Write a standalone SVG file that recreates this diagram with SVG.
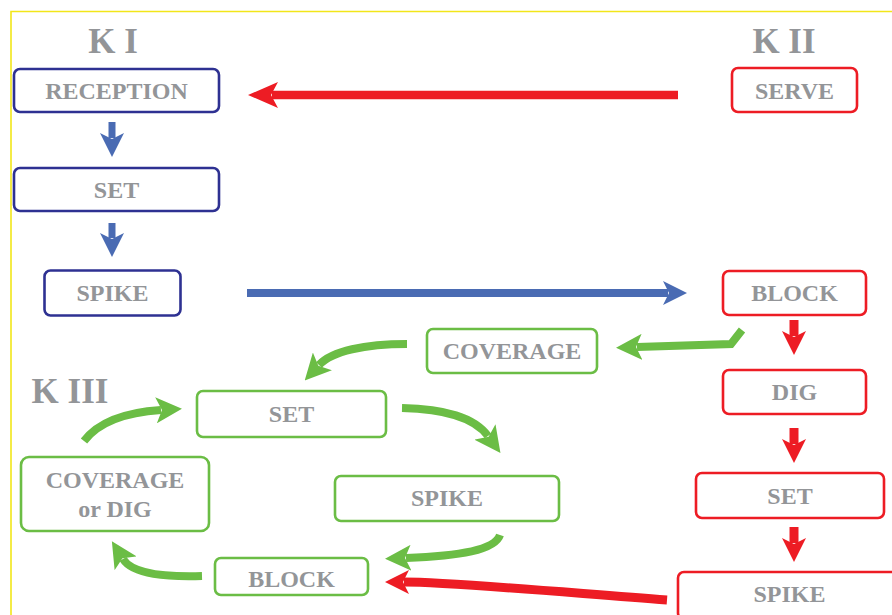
<svg xmlns="http://www.w3.org/2000/svg" width="892" height="615" viewBox="0 0 892 615">
<defs>
<style>
.t{font-family:"Liberation Serif","Times New Roman",serif;font-weight:bold;fill:#939598;text-anchor:middle}
.n{font-size:24px}
.k{font-size:35px}
.bx{fill:#fff;stroke-width:2.6}
.blue{stroke:#2e3192}
.red{stroke:#ed1c24}
.green{stroke:#6bbd45}
.a{fill:none}
.ab{stroke:#4a6bb3}
.ar{stroke:#ed1c24}
.ag{stroke:#6bbd45}
</style>
<marker id="hb" markerUnits="userSpaceOnUse" viewBox="0 -12 24 24" markerWidth="24" markerHeight="24" refX="5" refY="0" orient="auto"><path d="M0,-12 L24,0 L0,12 L6,0 Z" fill="#4a6bb3"/></marker>
<marker id="hr" markerUnits="userSpaceOnUse" viewBox="0 -12 24 24" markerWidth="24" markerHeight="24" refX="5" refY="0" orient="auto"><path d="M0,-12 L24,0 L0,12 L6,0 Z" fill="#ed1c24"/></marker>
<marker id="hrb" markerUnits="userSpaceOnUse" viewBox="0 -13 30 26" markerWidth="30" markerHeight="26" refX="6" refY="0" orient="auto"><path d="M0,-13 L30,0 L0,13 L7,0 Z" fill="#ed1c24"/></marker>
<marker id="hg" markerUnits="userSpaceOnUse" viewBox="0 -13 26 26" markerWidth="26" markerHeight="26" refX="5" refY="0" orient="auto"><path d="M0,-13 L26,0 L0,13 L6,0 Z" fill="#6bbd45"/></marker>
</defs>
<rect width="892" height="615" fill="#fff"/>
<path d="M11,615 V11.5 H892" fill="none" stroke="#f2e61a" stroke-width="1.6"/>

<text class="t k" x="113" y="53">K I</text>
<text class="t k" x="784" y="53">K II</text>
<text class="t k" x="70" y="403">K III</text>

<g id="connectors">
<path class="a ar" stroke-width="8.5" d="M678,95 H272" marker-end="url(#hrb)"/>
<path class="a ab" stroke-width="7" d="M112,122 V138" marker-end="url(#hb)"/>
<path class="a ab" stroke-width="7" d="M112,223 V238" marker-end="url(#hb)"/>
<path class="a ab" stroke-width="8" d="M247,293 H668" marker-end="url(#hb)"/>
<path class="a ar" stroke-width="9" d="M794,320 V336" marker-end="url(#hr)"/>
<path class="a ar" stroke-width="9" d="M794,428 V444" marker-end="url(#hr)"/>
<path class="a ar" stroke-width="9" d="M794,527 V543" marker-end="url(#hr)"/>
<path class="a ag" stroke-width="8" d="M742,330 L731,344 L637,347" marker-end="url(#hg)"/>
<path class="a ag" stroke-width="8" d="M407,344 C365,344 332,351 319,365" marker-end="url(#hg)"/>
<path class="a ag" stroke-width="8" d="M84,441 C100,420 130,412 161,410" marker-end="url(#hg)"/>
<path class="a ag" stroke-width="8" d="M402,408 C445,409 474,417 488,436" marker-end="url(#hg)"/>
<path class="a ag" stroke-width="8" d="M500,535 C495,550 460,556 406,558" marker-end="url(#hg)"/>
<path class="a ar" stroke-width="9" d="M667,600 C560,592 450,582 404,582" marker-end="url(#hr)"/>
<path class="a ag" stroke-width="8" d="M202,576 C168,577 133,575 123,559" marker-end="url(#hg)"/>
</g>

<g id="k1-reception"><rect class="bx blue" x="14" y="69" width="205" height="43" rx="6"/><text class="t n" x="116.5" y="99">RECEPTION</text></g>
<g id="k1-set"><rect class="bx blue" x="14" y="168" width="205" height="43" rx="6"/><text class="t n" x="116.5" y="198">SET</text></g>
<g id="k1-spike"><rect class="bx blue" x="44.5" y="270.5" width="136" height="45" rx="6"/><text class="t n" x="112.5" y="301">SPIKE</text></g>

<g id="k2-serve"><rect class="bx red" x="732" y="68" width="125" height="44" rx="6"/><text class="t n" x="794.5" y="99">SERVE</text></g>
<g id="k2-block"><rect class="bx red" x="723" y="271" width="143" height="44" rx="6"/><text class="t n" x="794.5" y="301">BLOCK</text></g>
<g id="k2-dig"><rect class="bx red" x="723" y="370" width="143" height="44" rx="6"/><text class="t n" x="794.5" y="400">DIG</text></g>
<g id="k2-set"><rect class="bx red" x="696" y="473" width="188" height="45" rx="6"/><text class="t n" x="790" y="504">SET</text></g>
<g id="k2-spike"><rect class="bx red" x="678" y="572" width="224" height="47" rx="6"/><text class="t n" x="789.5" y="602">SPIKE</text></g>

<g id="k3-coverage"><rect class="bx green" x="427" y="329" width="170" height="44" rx="6"/><text class="t n" x="512" y="359">COVERAGE</text></g>
<g id="k3-set"><rect class="bx green" x="197" y="391" width="189" height="46" rx="6"/><text class="t n" x="291.5" y="422">SET</text></g>
<g id="k3-spike"><rect class="bx green" x="335" y="476" width="224" height="45" rx="6"/><text class="t n" x="447" y="506">SPIKE</text></g>
<g id="k3-block"><rect class="bx green" x="215" y="558" width="153" height="37" rx="6"/><text class="t n" x="291.5" y="587">BLOCK</text></g>
<g id="k3-coverage-dig"><rect class="bx green" x="21" y="457" width="188" height="74" rx="8"/><text class="t n" x="115" y="488">COVERAGE</text><text class="t n" x="115" y="517">or DIG</text></g>
</svg>
